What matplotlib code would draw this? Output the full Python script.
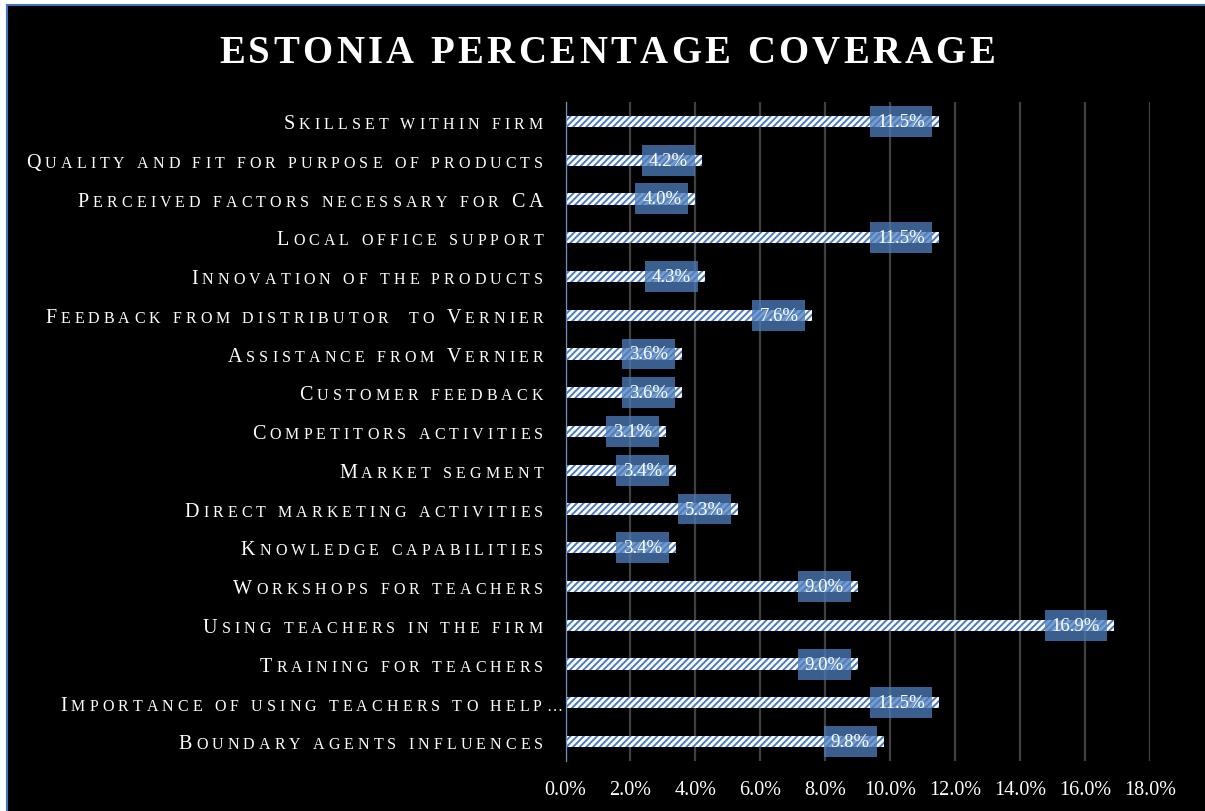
import matplotlib.pyplot as plt
from matplotlib.patches import Rectangle
from matplotlib.transforms import IdentityTransform

categories = [
    'Skillset within firm',
    'Quality and fit for purpose of products',
    'Perceived factors necessary for CA',
    'Local office support',
    'Innovation of the products',
    'Feedback from distributor  to Vernier',
    'Assistance from Vernier',
    'Customer feedback',
    'Competitors activities',
    'Market segment',
    'Direct marketing activities',
    'Knowledge capabilities',
    'Workshops for teachers',
    'Using teachers in the firm',
    'Training for teachers',
    'Importance of using teachers to help\u2026',
    'Boundary agents influences',
]
coverage = [11.5, 4.2, 4.0, 11.5, 4.3, 7.6, 3.6, 3.6, 3.1, 3.4, 5.3, 3.4,
            9.0, 16.9, 9.0, 11.5, 9.8]
xticks = [0, 2, 4, 6, 8, 10, 12, 14, 16, 18]
title = 'ESTONIA PERCENTAGE COVERAGE'

SERIF = 'Liberation Serif'
W, H = 1205, 812
PX = 100 / 72  # pixels per point

fig = plt.figure(figsize=(W / 100, H / 100), dpi=100, facecolor='white')
# black chart area with the blue outline showing on top and left
fig.patches.append(Rectangle((7, -10), W + 10, H - 6 + 10, transform=IdentityTransform(),
                             facecolor='black', edgecolor='#4472c4', lw=1.5, zorder=-5))

ax = fig.add_axes([565.5 / W, (H - 762) / H, (1150 - 565.5) / W, (762 - 103) / H])
ax.set_facecolor('black')

n = len(categories)
ypos = list(range(n))[::-1]
plt.rcParams['hatch.linewidth'] = 1.4
ax.barh(ypos, coverage, height=0.29, color='white', edgecolor='#4a7ac2',
        hatch='/////', linewidth=0, zorder=2)

ax.set_xlim(0, 18)
ax.set_ylim(-0.5, n - 0.5)
ax.set_xticks(xticks)
ax.set_xticklabels([f'{v:.1f}%' for v in xticks], color='white', fontsize=14.5, family=SERIF)
ax.set_yticks([])
ax.tick_params(length=0, pad=14)
ax.xaxis.grid(True, color='#404040', lw=1.6, zorder=0)
ax.set_axisbelow(True)
for side in ['top', 'right', 'bottom']:
    ax.spines[side].set_visible(False)
ax.spines['left'].set_color('#6f8fc4')
ax.spines['left'].set_linewidth(0.9)
ax.spines['left'].set_zorder(3)

# value boxes near the end of each bar
for y, v in zip(ypos, coverage):
    ax.annotate(f'{v:.1f}%', xy=(v, y), xytext=(-14, 0), textcoords='offset pixels',
                ha='right', va='center', color='white', fontsize=13.5, family=SERIF, zorder=4,
                bbox=dict(boxstyle='square,pad=0.37', fc='#4d7dbb', ec='none', alpha=0.76))

renderer = fig.canvas.get_renderer()


def put_char(ch, x, base, size, weight='normal'):
    t = fig.text(x, base, ch, transform=IdentityTransform(), ha='right', va='baseline',
                 color='white', fontsize=size, family=SERIF, fontweight=weight)
    return t.get_window_extent(renderer).width


# title with letter spacing, laid out from the right edge
T_SIZE, T_TRACK = 28, 3.4
glyphs = [(c, fig.text(0, 0, c, fontsize=T_SIZE, family=SERIF, fontweight='bold'))
          for c in title]
widths = [0.25 * T_SIZE * PX if c == ' ' else t.get_window_extent(renderer).width
          for c, t in glyphs]
for _, t in glyphs:
    t.remove()
total = sum(widths) + T_TRACK * (len(title) - 1)
x = 607 + total / 2
for c, w in zip(reversed(title), reversed(widths)):
    if c != ' ':
        put_char(c, x, H - 63, T_SIZE, 'bold')
    x -= w + T_TRACK

# small-caps category labels, placed letter by letter from the right
BIG, SMALL, TRACK = 14.5, 11.5, 4.1


def small_caps(label, x_right, y_mid):
    x = x_right
    base = y_mid - 0.662 * BIG * PX / 2
    for ch in reversed(label):
        if ch == ' ':
            x -= 0.25 * SMALL * PX + TRACK
            continue
        size = BIG if (ch.isupper() or not ch.isalpha()) and ch != '\u2026' else SMALL
        x -= put_char(ch.upper(), x, base, size) + TRACK


for y, label in zip(ypos, categories):
    y_mid = ax.transData.transform((0, y))[1]
    right = 562 if label.endswith('\u2026') else 543
    small_caps(label, right, y_mid)

fig.savefig('out.png', dpi=100, facecolor=fig.get_facecolor())
